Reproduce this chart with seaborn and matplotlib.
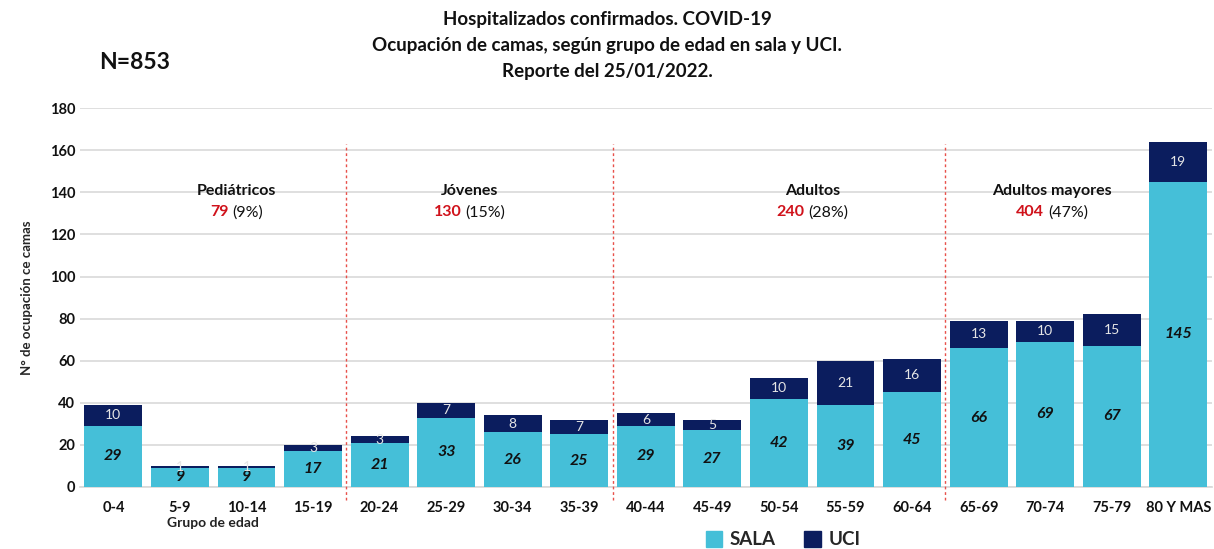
import matplotlib
matplotlib.use("Agg")
import matplotlib.pyplot as plt
import seaborn as sns
import pandas as pd
from matplotlib.patches import Patch
from matplotlib.transforms import offset_copy

groups = ["0-4", "5-9", "10-14", "15-19", "20-24", "25-29", "30-34", "35-39",
          "40-44", "45-49", "50-54", "55-59", "60-64", "65-69", "70-74", "75-79", "80 Y MAS"]
sala = [29, 9, 9, 17, 21, 33, 26, 25, 29, 27, 42, 39, 45, 66, 69, 67, 145]
uci = [10, 1, 1, 3, 3, 7, 8, 7, 6, 5, 10, 21, 16, 13, 10, 15, 19]

seg_names = ["Pediátricos", "Jóvenes", "Adultos", "Adultos mayores"]
seg_totals = [79, 130, 240, 404]
seg_pcts = ["(9%)", "(15%)", "(28%)", "(47%)"]
seg_label_x = [1.85, 5.35, 10.5, 14.1]
separators = [3.5, 7.5, 12.5]

C_SALA = "#45BFD8"
C_UCI = "#0B1D5E"

sns.set_theme(style="white")
plt.rcParams["font.family"] = ["Lato", "DejaVu Sans"]

df = pd.DataFrame({"grupo": groups, "sala": sala, "uci": uci})
df["total"] = df["sala"] + df["uci"]

fig = plt.figure(figsize=(12.14, 5.49), dpi=100)
ax = fig.add_axes([0.066, 0.113, 0.932, 0.690])

sns.barplot(data=df, x="grupo", y="total", color=C_UCI, width=0.87, ax=ax,
            saturation=1, edgecolor="none", zorder=2)
sns.barplot(data=df, x="grupo", y="sala", color=C_SALA, width=0.87, ax=ax,
            saturation=1, edgecolor="none", zorder=3)

ax.set_xlim(-0.5, len(groups) - 0.5)
ax.set_ylim(0, 180)
ax.set_yticks(range(0, 181, 20))
ax.yaxis.grid(True, color="#D9D9D9", linewidth=1.2, zorder=0)
ax.set_axisbelow(True)
for s in ["top", "right", "left"]:
    ax.spines[s].set_visible(False)
ax.spines["bottom"].set_color("#D9D9D9")
ax.tick_params(axis="both", length=0, labelsize=10.5, labelcolor="#111111")
ax.tick_params(axis="x", pad=10)
for lab in ax.get_xticklabels() + ax.get_yticklabels():
    lab.set_fontweight("bold")
ax.set_xlabel("")
ax.set_ylabel("N° de ocupación ce camas", fontsize=9.5, fontweight="bold", labelpad=12)

for i, (s, u) in enumerate(zip(sala, uci)):
    ax.text(i, s / 2, str(s), ha="center", va="center", fontsize=11.5,
            fontweight="bold", fontstyle="italic", color="#111111", zorder=5)
    ax.text(i, s + u / 2, str(u), ha="center", va="center", fontsize=10,
            color="#E6E6E6", zorder=5)

for xs in separators:
    ax.plot([xs, xs], [-6, 163], ls=(0, (2, 2)), color="#E8504A", lw=1,
            clip_on=False, zorder=4)

fig.canvas.draw()
renderer = fig.canvas.get_renderer()
gap_pt = 3
for x, name, tot, pct in zip(seg_label_x, seg_names, seg_totals, seg_pcts):
    ax.text(x, 140.5, name, ha="center", va="center", fontsize=11.5,
            fontweight="bold", color="#111111")
    t_red = ax.text(x, 130.5, str(tot), ha="left", va="center", fontsize=11.5,
                    fontweight="bold", color="#D0121B")
    t_pct = ax.text(x, 130.5, pct, ha="left", va="center", fontsize=11.5,
                    color="#111111")
    w_red = t_red.get_window_extent(renderer).width * 72 / fig.dpi
    w_pct = t_pct.get_window_extent(renderer).width * 72 / fig.dpi
    total_w = w_red + gap_pt + w_pct
    t_red.set_transform(offset_copy(ax.transData, fig=fig, x=-total_w / 2, y=0, units="points"))
    t_pct.set_transform(offset_copy(ax.transData, fig=fig, x=-total_w / 2 + w_red + gap_pt,
                                    y=0, units="points"))

ax.text(1.5, -17, "Grupo de edad", ha="center", va="center", fontsize=10,
        fontweight="bold", color="#222222", clip_on=False)

fig.text(0.50, 0.965, "Hospitalizados confirmados. COVID-19", ha="center", va="center",
         fontsize=13.5, fontweight="bold", color="#111111")
fig.text(0.50, 0.917, "Ocupación de camas, según grupo de edad en sala y UCI.", ha="center",
         va="center", fontsize=13.5, fontweight="bold", color="#111111")
fig.text(0.50, 0.869, "Reporte del 25/01/2022.", ha="center", va="center",
         fontsize=13.5, fontweight="bold", color="#111111")
fig.text(0.111, 0.887, "N=853", ha="center", va="center", fontsize=16.5,
         fontweight="bold", color="#111111")

handles = [Patch(color=C_SALA, label="SALA"), Patch(color=C_UCI, label="UCI")]
fig.legend(handles=handles, loc="center", bbox_to_anchor=(0.645, 0.017), ncol=2,
           frameon=False, prop={"size": 13.5, "weight": "bold"}, handlelength=0.9,
           handleheight=0.9, columnspacing=1.5, handletextpad=0.4)

fig.savefig("out.png", dpi=100)
